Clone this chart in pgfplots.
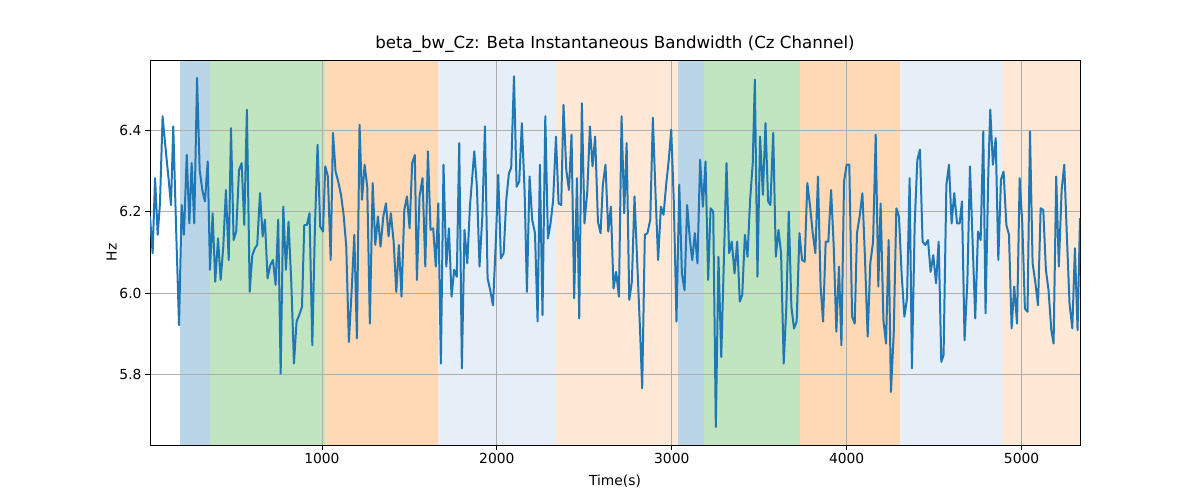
\documentclass[border=0pt]{standalone}
\usepackage{pgfplots}
\pgfplotsset{compat=1.18}
\usepackage{fontspec}
\setmainfont{DejaVu Sans}
\definecolor{lineblue}{HTML}{1F77B4}
\definecolor{bA}{HTML}{BAD4E8}
\definecolor{gA}{HTML}{C1E4C1}
\definecolor{oA}{HTML}{FFD8B5}
\definecolor{bB}{HTML}{E6EEF8}
\definecolor{oB}{HTML}{FFE9D6}
\begin{document}
\begin{tikzpicture}
\begin{axis}[
  set layers,
  scale only axis, width=930bp, height=385bp,
  xmin=17, xmax=5334, ymin=5.627, ymax=6.572,
  xtick={1000,2000,3000,4000,5000},
  ytick={5.8,6.0,6.2,6.4},
  xtick pos=left, ytick pos=left,
  xticklabel style={/pgf/number format/1000 sep={}},
  yticklabel style={/pgf/number format/fixed,/pgf/number format/precision=1,/pgf/number format/fixed zerofill},
  /pgf/number format/assume math mode=true,
  grid=major, grid style={color=black!32, line width=0.8pt},
  tick style={black, line width=0.8pt},
  tick align=outside, major tick length=5bp,
  every tick label/.append style={font=\fontsize{13.9}{16}\selectfont},
  xlabel={Time(s)}, ylabel={Hz},
  label style={font=\fontsize{13.9}{16}\selectfont},
  title={beta\_bw\_Cz: Beta Instantaneous Bandwidth (Cz Channel)},
  title style={font=\fontsize{16.7}{19}\selectfont, yshift=-2bp},
  xlabel style={yshift=-4bp}, ylabel style={yshift=-4bp},
  axis line style={line width=0.8pt},
]
\begin{pgfonlayer}{axis background}
\fill[bA] (axis cs:189,5.627) rectangle (axis cs:360,6.572);
\fill[gA] (axis cs:360,5.627) rectangle (axis cs:1017,6.572);
\fill[oA] (axis cs:1017,5.627) rectangle (axis cs:1663,6.572);
\fill[bB] (axis cs:1663,5.627) rectangle (axis cs:2337,6.572);
\fill[oB] (axis cs:2337,5.627) rectangle (axis cs:3034,6.572);
\fill[bA] (axis cs:3034,5.627) rectangle (axis cs:3183,6.572);
\fill[gA] (axis cs:3183,5.627) rectangle (axis cs:3731,6.572);
\fill[oA] (axis cs:3731,5.627) rectangle (axis cs:4303,6.572);
\fill[bB] (axis cs:4303,5.627) rectangle (axis cs:4886,6.572);
\fill[oB] (axis cs:4886,5.627) rectangle (axis cs:5334,6.572);
\end{pgfonlayer}
\addplot[lineblue, line width=2pt, line join=round] table {
t v
17 6.188
32 6.098
46 6.282
61 6.143
74 6.220
89 6.434
103 6.368
122 6.286
137 6.216
150 6.409
166 6.163
183 5.921
198 6.216
211 6.143
227 6.339
242 6.171
255 6.319
270 6.171
286 6.528
301 6.302
316 6.253
331 6.225
347 6.323
360 6.057
375 6.196
390 6.028
406 6.134
421 6.032
436 6.114
451 6.253
467 6.081
480 6.405
495 6.130
510 6.151
526 6.302
541 6.319
556 6.167
571 6.450
587 6.003
602 6.093
617 6.110
630 6.118
646 6.245
661 6.139
674 6.180
689 6.036
705 6.069
720 6.081
735 6.020
750 6.180
764 5.802
779 6.212
794 6.057
809 6.175
825 6.024
840 5.827
855 5.930
870 5.946
886 5.966
899 6.167
914 6.167
929 6.196
945 5.872
960 6.163
975 6.364
990 6.163
1006 6.151
1019 6.311
1034 6.286
1050 6.081
1063 6.393
1078 6.298
1093 6.274
1109 6.241
1124 6.192
1139 6.114
1154 5.880
1170 6.007
1185 6.143
1200 5.889
1215 6.413
1229 6.229
1244 6.315
1259 6.261
1274 5.925
1290 6.270
1305 6.118
1320 6.188
1335 6.114
1351 6.188
1366 6.220
1381 6.139
1394 6.196
1410 6.126
1425 6.003
1440 6.118
1455 5.991
1471 6.204
1486 6.237
1501 6.159
1516 6.319
1531 6.339
1543 6.032
1558 6.237
1575 6.282
1591 6.065
1606 6.348
1621 6.155
1636 6.159
1651 6.065
1665 6.220
1680 5.827
1695 6.315
1711 6.065
1726 6.159
1741 5.991
1756 6.057
1771 6.040
1785 6.368
1800 5.815
1815 6.155
1831 6.073
1846 6.212
1871 6.348
1886 6.261
1901 6.065
1917 6.188
1932 6.409
1947 6.036
1962 6.007
1978 5.970
1993 6.114
2008 6.290
2023 6.085
2039 6.098
2054 6.229
2069 6.294
2082 6.307
2098 6.532
2113 6.261
2128 6.274
2143 6.417
2159 6.245
2172 6.003
2187 6.286
2202 6.180
2218 6.147
2233 5.930
2246 6.315
2261 5.946
2277 6.434
2292 6.134
2307 6.171
2322 6.229
2338 6.384
2353 6.220
2368 6.216
2381 6.462
2397 6.302
2412 6.253
2427 6.389
2442 5.987
2458 6.282
2471 5.938
2486 6.466
2501 6.171
2517 6.249
2532 6.409
2547 6.311
2562 6.384
2578 6.175
2593 6.147
2606 6.266
2621 6.315
2637 6.151
2652 6.212
2667 6.011
2682 6.052
2698 5.991
2713 6.434
2728 6.196
2742 6.368
2757 5.983
2772 6.028
2787 6.237
2802 6.081
2818 5.917
2831 5.766
2846 6.143
2861 6.147
2877 6.180
2892 6.430
2907 6.245
2922 6.081
2938 6.212
2953 6.192
2968 6.266
2983 6.327
2997 6.401
3012 6.220
3027 5.930
3043 6.266
3058 6.048
3073 6.007
3088 6.216
3103 6.134
3117 6.081
3132 6.147
3147 6.073
3162 6.327
3178 6.212
3193 6.323
3208 6.032
3222 6.208
3237 6.200
3252 5.671
3267 6.089
3283 5.843
3298 6.081
3313 6.319
3328 6.098
3343 6.126
3359 6.048
3374 6.126
3389 5.979
3403 5.995
3418 6.143
3433 6.089
3448 6.229
3463 6.319
3475 6.524
3490 6.040
3505 6.384
3521 6.241
3536 6.417
3551 6.225
3564 6.216
3580 6.393
3595 6.089
3610 6.155
3625 6.098
3640 5.827
3655 5.966
3669 6.200
3684 5.966
3699 5.913
3714 5.930
3730 6.147
3745 6.081
3760 6.077
3775 6.270
3791 6.212
3806 6.147
3821 6.098
3836 6.286
3851 6.016
3865 5.930
3880 6.126
3895 6.126
3911 6.253
3926 6.114
3941 5.905
3956 6.065
3970 5.872
3985 6.274
4000 6.315
4015 6.315
4031 5.942
4046 5.925
4059 6.147
4074 6.188
4090 6.245
4105 6.081
4120 5.893
4135 6.073
4151 6.126
4166 6.389
4181 6.016
4194 6.220
4210 5.934
4225 5.876
4240 6.130
4253 5.757
4269 5.901
4284 6.208
4299 6.188
4314 6.048
4330 5.942
4345 5.987
4360 6.282
4373 5.815
4389 6.171
4404 6.327
4419 6.352
4434 6.126
4450 6.118
4465 6.130
4480 6.052
4495 6.093
4511 6.024
4526 6.126
4541 5.831
4554 5.848
4570 6.266
4585 6.315
4600 6.171
4615 6.245
4631 6.171
4646 6.171
4659 6.225
4674 5.884
4690 6.028
4705 6.311
4720 6.126
4735 5.938
4751 6.151
4766 6.130
4781 6.397
4794 5.950
4810 6.298
4821 6.450
4836 6.315
4852 6.380
4867 6.081
4882 6.278
4897 6.298
4913 6.167
4928 6.143
4943 5.913
4958 6.016
4974 5.925
4989 6.282
5004 6.171
5019 5.962
5034 5.954
5048 6.397
5063 6.073
5078 6.028
5094 5.970
5109 6.208
5124 6.204
5139 6.057
5154 6.007
5170 5.909
5183 5.876
5198 6.286
5213 6.065
5229 6.253
5244 6.315
5259 6.139
5274 5.975
5290 5.913
5305 6.110
5320 5.909
5334 6.184
};
\end{axis}
\useasboundingbox (-150bp,-55bp) rectangle (1050bp,445bp);
\end{tikzpicture}
\end{document}
